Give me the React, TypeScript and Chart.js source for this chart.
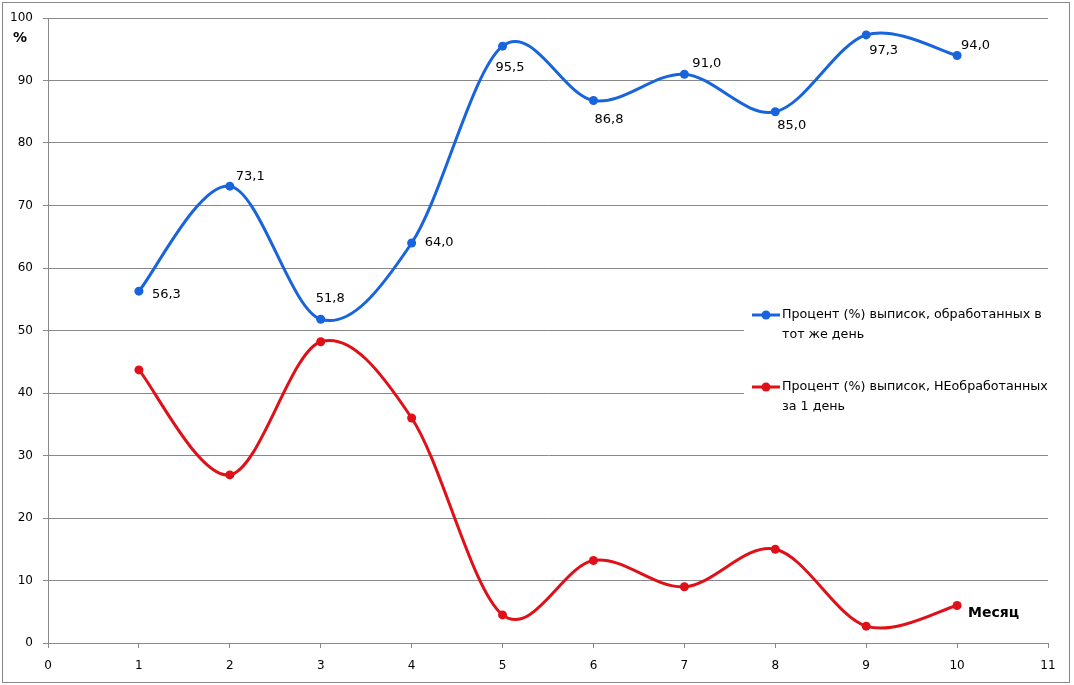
import React, { useEffect, useRef } from "react";
import { Chart, registerables } from "chart.js";

Chart.register(...registerables);

const months = [1, 2, 3, 4, 5, 6, 7, 8, 9, 10];
const processedSameDay = [56.3, 73.1, 51.8, 64.0, 95.5, 86.8, 91.0, 85.0, 97.3, 94.0];
const notProcessed1Day = [43.7, 26.9, 48.2, 36.0, 4.5, 13.2, 9.0, 15.0, 2.7, 6.0];
const seriesNames = [
  ["Процент (%) выписок, обработанных в", "тот же день"],
  ["Процент (%) выписок, НЕобработанных", "за 1 день"],
];
const yAxisTitle = "%";
const xAxisTitle = "Месяц";

const BLUE = "#1864dc";
const RED = "#e01018";
const GRID = "#888888";
const FONT = "'DejaVu Sans', Verdana, sans-serif";

// label offsets (left edge dx, center dy) relative to each blue point
const labelOffsets = [
  [13, 3], [6, -10], [-5, -21], [13, 0], [-7, 21],
  [1, 19], [8, -11], [2, 14], [3, 16], [4, -10],
];

const fmt = (v: number) => v.toFixed(1).replace(".", ",");

// Excel-like (uniform Catmull-Rom) smoothing of the library's own line path
const catmullRom = {
  id: "catmullRom",
  beforeDatasetsDraw(chart: any) {
    chart.getSortedVisibleDatasetMetas().forEach((meta: any) => {
      const line = meta.dataset;
      if (line && line.updateControlPoints) line.updateControlPoints(chart.chartArea, "x");
      const pts = meta.data;
      const n = pts.length;
      for (let i = 0; i < n; i++) {
        const prev = pts[Math.max(0, i - 1)];
        const next = pts[Math.min(n - 1, i + 1)];
        const tx = (next.x - prev.x) / 6;
        const ty = (next.y - prev.y) / 6;
        pts[i].cp1x = pts[i].x - tx;
        pts[i].cp1y = pts[i].y - ty;
        pts[i].cp2x = pts[i].x + tx;
        pts[i].cp2y = pts[i].y + ty;
      }
      if (line) line._path = undefined;
    });
  },
};

export default function App() {
  const ref = useRef<HTMLCanvasElement>(null);
  useEffect(() => {
    const canvas = ref.current!;
    const extras = {
      id: "extras",
      afterDatasetsDraw(chart: any) {
        const ctx = chart.ctx;
        ctx.save();
        // data labels
        const meta = chart.getDatasetMeta(0);
        ctx.fillStyle = "#000";
        ctx.font = `13px ${FONT}`;
        ctx.textAlign = "left";
        ctx.textBaseline = "middle";
        meta.data.forEach((pt: any, i: number) => {
          const [dx, dy] = labelOffsets[i];
          ctx.fillText(fmt(processedSameDay[i]), pt.x + dx, pt.y + dy);
        });
        // legend box
        ctx.fillStyle = "#fff";
        ctx.fillRect(744, 296, 308, 130);
        const items = [
          { color: BLUE, y: 315, lines: seriesNames[0] },
          { color: RED, y: 387, lines: seriesNames[1] },
        ];
        items.forEach((it) => {
          ctx.strokeStyle = it.color;
          ctx.lineWidth = 3;
          ctx.beginPath();
          ctx.moveTo(752, it.y);
          ctx.lineTo(780, it.y);
          ctx.stroke();
          ctx.fillStyle = it.color;
          ctx.beginPath();
          ctx.arc(766, it.y, 4.5, 0, Math.PI * 2);
          ctx.fill();
          ctx.fillStyle = "#000";
          ctx.font = `12.7px ${FONT}`;
          ctx.textAlign = "left";
          ctx.textBaseline = "middle";
          it.lines.forEach((ln, k) => ctx.fillText(ln, 782, it.y + k * 20));
        });
        // axis titles
        ctx.fillStyle = "#000";
        ctx.font = `bold 14px ${FONT}`;
        ctx.textAlign = "left";
        ctx.fillText(yAxisTitle, 13, 38);
        ctx.fillText(xAxisTitle, 968, 613);
        // outer border
        ctx.strokeStyle = GRID;
        ctx.lineWidth = 1;
        ctx.strokeRect(2.5, 2.5, 1067, 680);
        ctx.restore();
      },
    };
    const mk = (vals: number[]) => months.map((m, i) => ({ x: m, y: vals[i] }));
    const ds = (label: string, vals: number[], color: string) => ({
      label,
      data: mk(vals),
      borderColor: color,
      backgroundColor: color,
      pointBackgroundColor: color,
      borderWidth: 3,
      pointRadius: 4.5,
      pointBorderWidth: 0,
      tension: 0.4,
    });
    const chart = new Chart(canvas, {
      type: "line",
      data: {
        datasets: [
          ds(seriesNames[0].join(" "), processedSameDay, BLUE),
          ds(seriesNames[1].join(" "), notProcessed1Day, RED),
        ],
      },
      options: {
        animation: false,
        responsive: false,
        layout: { padding: { left: 0, top: 18, right: 26, bottom: 0 } },
        plugins: { legend: { display: false }, tooltip: { enabled: false } },
        scales: {
          x: {
            type: "linear",
            min: 0,
            max: 11,
            afterFit: (s: any) => { s.height = 42; },
            ticks: { stepSize: 1, color: "#000", font: { family: FONT, size: 12 }, padding: 11, maxRotation: 0 },
            grid: { drawOnChartArea: false, drawTicks: true, tickLength: 5, color: GRID },
            border: { color: GRID },
          },
          y: {
            min: 0,
            max: 100,
            afterFit: (s: any) => { s.width = 48; },
            ticks: { stepSize: 10, color: "#000", font: { family: FONT, size: 12 }, padding: 10 },
            grid: { color: GRID, tickLength: 5 },
            border: { color: GRID },
          },
        },
      },
      plugins: [catmullRom, extras],
    } as any);
    return () => chart.destroy();
  }, []);
  return (
    <div style={{ position: "absolute", left: 0, top: 0, width: 1074, height: 685, background: "#fff" }}>
      <canvas ref={ref} width={1074} height={685} style={{ display: "block" }} />
    </div>
  );
}
